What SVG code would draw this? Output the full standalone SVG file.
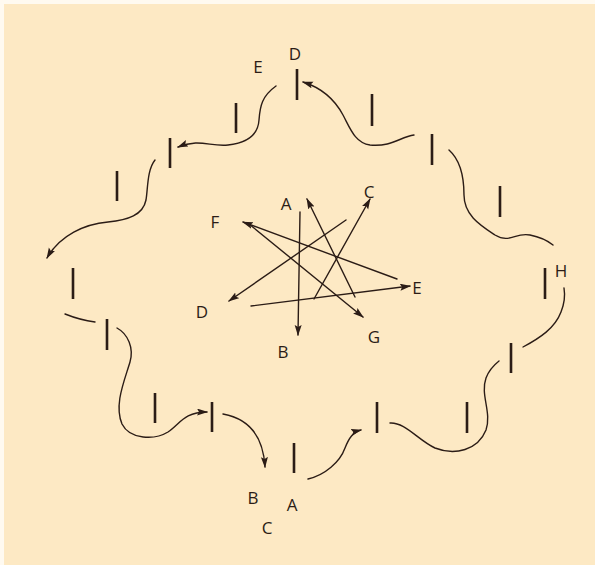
<svg xmlns="http://www.w3.org/2000/svg" width="595" height="565" viewBox="0 0 595 565">
<style>
.c{fill:none;stroke:#2b1c16;stroke-width:1.4;stroke-linecap:round}
.a{marker-end:url(#ah)}
.bar{stroke:#2b1c16;stroke-width:2.6;stroke-linecap:butt}
text{font-family:"Open Sans","DejaVu Sans",sans-serif;font-size:17px;fill:#2b1c16;text-anchor:middle}
</style>
<defs>
<marker id="ah" markerUnits="userSpaceOnUse" markerWidth="11" markerHeight="8" refX="10" refY="3.5" orient="auto">
<path d="M0,0 L11,3.5 L0,7 L2,3.5 Z" fill="#2b1c16"/>
</marker>
</defs>
<rect width="595" height="565" fill="#fffaf0"/>
<rect x="4" y="4" width="591" height="561" fill="#fde9c4"/>
<g id="connectors">
<path class="c a" d="M276,86 C262,96 260,106 259,120 C258,136 246,143 228,145 C210,147 200,138 178,147"/>
<path class="c a" d="M155,160 C147,170 148,188 146,200 C143,215 128,220 108,222 C85,224 60,235 47,258"/>
<path class="c" d="M65,314 Q80,320 95,322"/>
<path class="c a" d="M117,328 C128,334 134,348 130,362 C124,382 114,405 122,424 C130,440 155,440 168,432 C180,424 184,412 207,412"/>
<path class="c a" d="M223,414 C245,418 263,432 265,467"/>
<path class="c a" d="M308,479 C325,475 340,462 345,448 C349,438 353,432 361,430"/>
<path class="c" d="M390,423 C405,422 418,440 435,448 C455,456 478,450 486,430 C492,412 480,395 486,378 C489,370 494,365 499,361"/>
<path class="c" d="M523,347 C540,338 555,328 561,312 C565,302 565,294 564,288"/>
<path class="c" d="M449,150 C458,158 464,172 464,195 C464,215 480,225 495,235 C510,244 515,232 530,235 C540,237 548,241 553,245"/>
<path class="c a" d="M414,135 C400,137 392,147 370,145 C355,143 350,128 343,115 C335,100 322,88 303,82"/>
<line class="c a" x1="300" y1="212" x2="298" y2="335"/>
<line class="c a" x1="355" y1="297" x2="307" y2="199"/>
<line class="c a" x1="314" y1="299" x2="370" y2="199"/>
<line class="c a" x1="346" y1="220" x2="229" y2="301"/>
<line class="c a" x1="397" y1="279" x2="243" y2="222"/>
<line class="c a" x1="249" y1="224" x2="363" y2="317"/>
<line class="c a" x1="251" y1="306" x2="410" y2="286"/>
</g>
<g id="bars">
<line class="bar" x1="297" y1="69" x2="297" y2="100"/>
<line class="bar" x1="236" y1="103" x2="236" y2="133"/>
<line class="bar" x1="170" y1="138" x2="170" y2="168"/>
<line class="bar" x1="117" y1="171" x2="117" y2="201"/>
<line class="bar" x1="73" y1="268" x2="73" y2="299"/>
<line class="bar" x1="107" y1="319" x2="107" y2="350"/>
<line class="bar" x1="155" y1="393" x2="155" y2="423"/>
<line class="bar" x1="212" y1="402" x2="212" y2="432"/>
<line class="bar" x1="294" y1="443" x2="294" y2="473"/>
<line class="bar" x1="377" y1="402" x2="377" y2="433"/>
<line class="bar" x1="467" y1="402" x2="467" y2="433"/>
<line class="bar" x1="511" y1="343" x2="511" y2="373"/>
<line class="bar" x1="545" y1="268" x2="545" y2="299"/>
<line class="bar" x1="500" y1="186" x2="500" y2="217"/>
<line class="bar" x1="432" y1="134" x2="432" y2="165"/>
<line class="bar" x1="372" y1="94" x2="372" y2="126"/>
</g>
<g id="labels">
<text x="286" y="210">A</text>
<text x="215" y="228">F</text>
<text x="369" y="198">C</text>
<text x="417" y="294">E</text>
<text x="202" y="318">D</text>
<text x="283" y="358">B</text>
<text x="374" y="343">G</text>
<text x="258" y="73">E</text>
<text x="295" y="60">D</text>
<text x="561" y="277">H</text>
<text x="253" y="504">B</text>
<text x="292" y="511">A</text>
<text x="267" y="534">C</text>
</g>
</svg>
